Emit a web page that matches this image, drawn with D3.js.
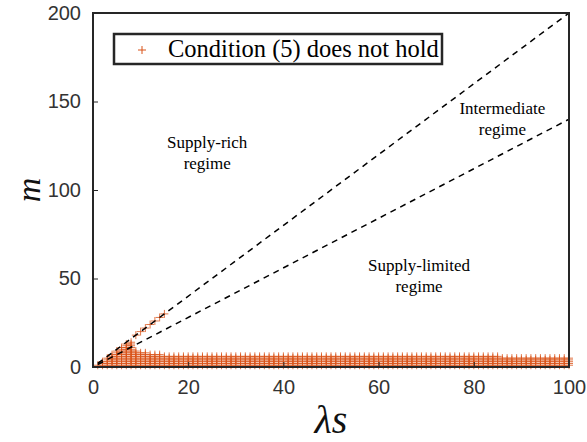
<!DOCTYPE html>
<html>
<head>
<meta charset="utf-8">
<script src="https://cdn.jsdelivr.net/npm/d3@7"></script>
<style>
  html, body { margin: 0; padding: 0; background: #fff; }
  svg { display: block; }
</style>
</head>
<body>
<svg id="chart" width="587" height="442"></svg>
<script>
// Axis ranges and tick labels
const xTicks = [0, 20, 40, 60, 80, 100];
const yTicks = [0, 50, 100, 150, 200];
const xDomain = [0, 100];
const yDomain = [0, 200];

// Regime boundaries m = k * (lambda s), drawn from lambda s = 1 to 100
const boundarySlopes = [2.0, 1.4];
const boundaryStart = 1;
const boundaryEnd = 100;

// Columns of the (lambda s, m) grid where condition (5) fails:
// for lambda s = 1..100, m runs from 1 up to colTop[i]
const colTop = [
  1, 3, 5, 7, 9, 11, 13, 14, 9, 8,
  8, 7, 7, 7, 6, 6, 6, 6, 6, 6,
  6, 6, 6, 6, 6, 6, 6, 6, 6, 6,
  6, 6, 6, 6, 6, 6, 6, 6, 6, 6,
  6, 6, 6, 6, 6, 6, 6, 6, 6, 6,
  6, 6, 6, 6, 6, 6, 6, 6, 6, 6,
  6, 6, 6, 6, 6, 6, 6, 6, 6, 6,
  6, 6, 6, 6, 6, 6, 6, 6, 6, 6,
  6, 6, 6, 6, 6, 5, 5, 5, 5, 5,
  5, 5, 5, 5, 5, 5, 5, 5, 5, 5
];
// Isolated failing points close to the boundaries
const extraLambda = [9, 10, 11, 12, 13, 14, 15];
const extraM      = [18, 20, 22, 24, 26, 28, 30];

// Annotations
const regimeLabels = [
  { lines: ["Supply-rich", "regime"], x: 24, y: 124 },
  { lines: ["Intermediate", "regime"], x: 86, y: 143 },
  { lines: ["Supply-limited", "regime"], x: 68.5, y: 54 }
];
const legendText = "Condition (5) does not hold";

const svg = d3.select("#chart");
const plot = { left: 93, right: 569, top: 13, bottom: 367 };
const x = d3.scaleLinear().domain(xDomain).range([plot.left, plot.right]);
const y = d3.scaleLinear().domain(yDomain).range([plot.bottom, plot.top]);

const orange = "#D95319";
const axisColor = "#262626";

// Build the marker list from the column data
const points = [];
colTop.forEach((top, i) => {
  for (let m = 1; m <= top; m++) points.push({ ls: i + 1, m });
});
extraLambda.forEach((ls, i) => points.push({ ls, m: extraM[i] }));

const plusPath = "M-4,0H4M0,-4V4";

// Markers (drawn under axes)
svg.append("g")
  .selectAll("path")
  .data(points)
  .join("path")
  .attr("d", plusPath)
  .attr("transform", d => `translate(${x(d.ls)},${y(d.m)})`)
  .attr("fill", "none")
  .attr("stroke", orange)
  .attr("stroke-width", 0.8);

// Dashed regime boundaries
const line = d3.line().x(d => x(d[0])).y(d => y(d[1]));
svg.append("g")
  .selectAll("path")
  .data(boundarySlopes)
  .join("path")
  .attr("d", k => line([[boundaryStart, k * boundaryStart], [boundaryEnd, k * boundaryEnd]]))
  .attr("fill", "none")
  .attr("stroke", "#000")
  .attr("stroke-width", 1.5)
  .attr("stroke-dasharray", "6,5");

// Axes
const tickFont = "'Liberation Sans', Arial, Helvetica, sans-serif";
const xAxis = d3.axisBottom(x).tickValues(xTicks).tickSize(-5).tickPadding(13);
const yAxis = d3.axisLeft(y).tickValues(yTicks).tickSize(-5).tickPadding(12);

const gx = svg.append("g").attr("transform", `translate(0,${plot.bottom})`).call(xAxis);
const gy = svg.append("g").attr("transform", `translate(${plot.left},0)`).call(yAxis);
[gx, gy].forEach(g => {
  g.select(".domain").remove();
  g.selectAll(".tick line").attr("stroke", axisColor).attr("stroke-width", 1);
  g.selectAll(".tick text")
    .attr("fill", "#333")
    .style("font-family", tickFont)
    .style("font-size", "20px");
});

// Box around the axes
svg.append("rect")
  .attr("x", plot.left).attr("y", plot.top)
  .attr("width", plot.right - plot.left).attr("height", plot.bottom - plot.top)
  .attr("fill", "none").attr("stroke", axisColor).attr("stroke-width", 2);

// Axis titles
const mathFont = "'Liberation Serif', 'DejaVu Serif', serif";
svg.append("text")
  .attr("x", (plot.left + plot.right) / 2)
  .attr("y", 433)
  .attr("text-anchor", "middle")
  .style("font-family", mathFont)
  .style("font-style", "italic")
  .style("font-size", "40px")
  .attr("fill", "#111")
  .text("λs");

svg.append("text")
  .attr("transform", `translate(40,${(plot.top + plot.bottom) / 2}) rotate(-90)`)
  .attr("text-anchor", "middle")
  .style("font-family", mathFont)
  .style("font-style", "italic")
  .style("font-size", "34px")
  .attr("fill", "#111")
  .text("m");

// Regime annotations
const annFont = "'Liberation Serif', 'Times New Roman', serif";
regimeLabels.forEach(lab => {
  const t = svg.append("text")
    .attr("text-anchor", "middle")
    .style("font-family", annFont)
    .style("font-size", "17px")
    .attr("fill", "#000");
  lab.lines.forEach((s, i) => {
    t.append("tspan")
      .attr("x", x(lab.x))
      .attr("y", y(lab.y) + i * 21)
      .text(s);
  });
});

// Legend
const legend = svg.append("g");
legend.append("rect")
  .attr("x", 114).attr("y", 34).attr("width", 328).attr("height", 30)
  .attr("fill", "#fff").attr("stroke", axisColor).attr("stroke-width", 2.5);
legend.append("path")
  .attr("d", plusPath)
  .attr("transform", "translate(142,50)")
  .attr("fill", "none").attr("stroke", orange).attr("stroke-width", 1);
const legendLabel = legend.append("text")
  .attr("x", 168).attr("y", 57)
  .style("font-family", mathFont)
  .style("font-size", "21px")
  .attr("fill", "#000")
  .text(legendText);
// Scale the label so it spans the box from the marker to the right edge
const natural = legendLabel.node().getComputedTextLength();
legendLabel.style("font-size", (21 * 271 / natural).toFixed(2) + "px");
</script>
</body>
</html>
